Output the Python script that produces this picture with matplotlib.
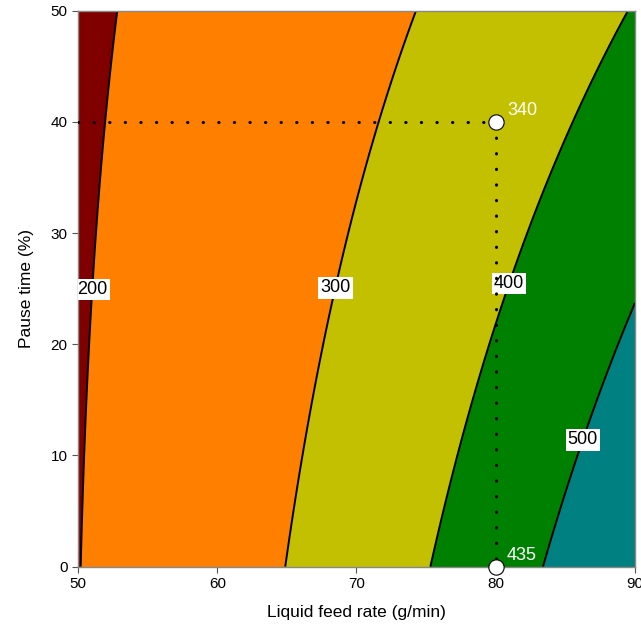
import numpy as np
import matplotlib.pyplot as plt

plt.rcParams['font.family'] = ['Liberation Sans', 'DejaVu Sans']

# response surface, ln(value) = c0 + c1*x + c2*y + c3*x*y + c4*y^2
c0 = 3.913
c1 = 0.0276
c2 = 0.00818
c3 = -0.000174
c4 = -8.8e-6

levels = [200, 300, 400, 500]
fill_bounds = [0, 200, 300, 400, 500, 10000]
fill_colors = ['#800000', '#FF8000', '#C2C000', '#008000', '#008080']

x_ticks = [50, 60, 70, 80, 90]
y_ticks = [0, 10, 20, 30, 40, 50]

# points marked on the chart and their measured values
point_x = [80, 80]
point_y = [40, 0]
point_labels = ['340', '435']

# where the contour labels sit
label_spots = [(51.4, 24.9), (68.7, 25), (81.3, 25.3), (86.5, 11.3)]


def surface(x, y):
    return np.exp(c0 + c1 * x + c2 * y + c3 * x * y + c4 * y ** 2)


xs = np.linspace(50, 90, 400)
ys = np.linspace(0, 50, 400)
X, Y = np.meshgrid(xs, ys)
Z = surface(X, Y)

fig = plt.figure(figsize=(6.41, 6.34), dpi=100)
ax = fig.add_axes([0.1217, 0.1062, 0.8689, 0.8769])

ax.contourf(X, Y, Z, levels=fill_bounds, colors=fill_colors)
cs = ax.contour(X, Y, Z, levels=levels, colors='black', linewidths=1.4)
texts = ax.clabel(cs, manual=label_spots, inline=False, fontsize=13, fmt='%d')
for t in texts:
    t.set_rotation(0)
    t.set_bbox(dict(facecolor='white', edgecolor='none', pad=1.5))

# dotted guide lines to the marked point
dots = dict(color='black', lw=2.2, linestyle=(0, (0.1, 5)), dash_capstyle='round', zorder=4)
ax.plot([50, point_x[0]], [point_y[0], point_y[0]], **dots)
ax.plot([point_x[0], point_x[1]], [point_y[0], point_y[1]], **dots)

ax.plot(point_x, point_y, 'o', ms=11, mfc='white', mec='black', mew=0.8,
        zorder=5, clip_on=False)
for px, py, lab in zip(point_x, point_y, point_labels):
    ax.annotate(lab, (px, py), xytext=(8, 5), textcoords='offset points',
                color='white', fontsize=13, zorder=6)

ax.set_xlim(50, 90)
ax.set_ylim(0, 50)
ax.set_xticks(x_ticks)
ax.set_yticks(y_ticks)
ax.tick_params(direction='out', length=4, labelsize=11, color='#555555')
for s in ax.spines.values():
    s.set_color('#888888')
    s.set_linewidth(1)

ax.set_xlabel('Liquid feed rate (g/min)', fontsize=12.5, labelpad=10)
ax.set_ylabel('Pause time (%)', fontsize=12.5, labelpad=12)

plt.savefig('out.png', dpi=100)
